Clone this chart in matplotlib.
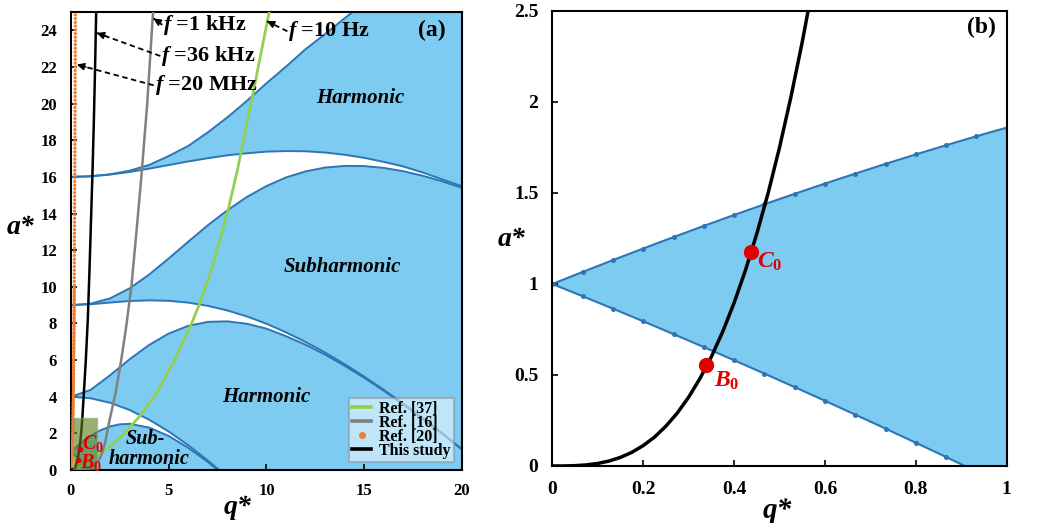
import matplotlib.pyplot as plt
from matplotlib.lines import Line2D
from matplotlib.patches import Rectangle

plt.rcParams['font.family'] = ['Liberation Serif', 'DejaVu Serif']
plt.rcParams['font.weight'] = 'bold'
plt.rcParams['mathtext.fontset'] = 'custom'
plt.rcParams['mathtext.rm'] = 'Liberation Serif:bold'
plt.rcParams['mathtext.it'] = 'Liberation Serif:italic:bold'
plt.rcParams['mathtext.bf'] = 'Liberation Serif:bold'

# ---- Mathieu stability boundaries, panel (a) ----
q_b1 = [0, 0.2, 0.4, 0.6, 0.8, 1.0]
b1 = [1.0, 0.795, 0.581, 0.358, 0.128, -0.110]

q_a1 = [0, 0.5, 1, 1.5, 2, 2.5, 3, 4, 5, 6, 7, 7.5, 8]
a1 = [1.0, 1.468, 1.859, 2.164, 2.379, 2.496, 2.519, 2.318, 1.858, 1.214, 0.439, 0.01, -0.44]

q_b2 = [0, 1, 2, 3, 4, 5, 6, 7, 7.5, 8, 10, 15, 20]
b2 = [4.0, 3.917, 3.672, 3.277, 2.747, 2.100, 1.352, 0.518, 0.07, -0.389, -2.38, -8.10, -14.49]

q_int = [0, 1, 2, 3, 4, 5, 6, 7, 8, 9, 10, 11, 12, 13, 14, 15, 16, 17, 18, 19, 20]
a2 = [4.0, 4.371, 5.172, 6.046, 6.829, 7.449, 7.870, 8.086, 8.115, 7.983, 7.717,
      7.305, 6.84, 6.30, 5.69, 5.035, 4.33, 3.58, 2.795, 1.98, 1.12]
b3 = [9.0, 9.048, 9.141, 9.223, 9.262, 9.236, 9.138, 8.962, 8.710, 8.383, 7.986,
      7.515, 6.99, 6.41, 5.78, 5.10, 4.38, 3.62, 2.825, 2.0, 1.137]
a3 = [9.0, 9.079, 9.370, 9.916, 10.671, 11.548, 12.465, 13.357, 14.18, 14.904, 15.50,
      15.97, 16.30, 16.51, 16.60, 16.59, 16.49, 16.31, 16.06, 15.755, 15.40]
b4 = [16.0, 16.033, 16.128, 16.27, 16.452, 16.648, 16.844, 17.02, 17.18, 17.29, 17.38,
      17.41, 17.40, 17.33, 17.21, 17.04, 16.82, 16.57, 16.24, 15.86, 15.49]

q_a4 = [0, 1, 2, 3, 4, 5, 6, 7, 8, 9, 10, 11, 12, 13, 14, 15, 16, 18, 20]
a4 = [16.0, 16.034, 16.141, 16.34, 16.65, 17.14, 17.69, 18.43, 19.25, 20.15, 21.11,
      22.02, 22.97, 23.8, 24.66, 25.5, 26.3, 27.8, 29.0]

# operating curves for the different drive frequencies
q_ref37 = [0, 0.7, 1.34, 1.8, 2.57, 3.51, 4.37, 5.31, 6.17, 6.59, 7.19, 8.04, 8.52, 9.32, 10.14]
a_ref37 = [0, 0.42, 0.82, 1.09, 1.83, 2.92, 4.19, 6.01, 8.0, 9.1, 10.93, 14.2, 16.4, 20.6, 25.0]

q_ref16 = [0, 0.6, 1.0, 1.3, 1.55, 1.75, 1.97, 2.28, 2.57, 2.81, 3.09, 3.35, 3.6, 3.9, 4.2]
a_ref16 = [0, 0.02, 0.1, 0.3, 0.8, 1.5, 2.7, 4.2, 6.0, 7.7, 10.0, 13.0, 16.0, 20.0, 25.0]

q_ref20 = [0, 0.05, 0.09, 0.12, 0.15, 0.17, 0.19, 0.21, 0.225]
a_ref20 = [0, 0.8, 2.0, 4.0, 7.0, 10.0, 15.0, 20.0, 25.0]

q_study = [0, 0.2, 0.35, 0.45, 0.52, 0.58, 0.66, 0.76, 0.86, 0.95, 1.03, 1.10, 1.17, 1.23, 1.29]
a_study = [0, 0.11, 0.6, 1.3, 2.0, 2.8, 4.2, 6.0, 8.2, 11.0, 13.8, 16.2, 19.0, 21.8, 25.0]

# ---- panel (b): first tongue near the origin ----
q_fine = [0, 0.0667, 0.1333, 0.2, 0.2667, 0.3333, 0.4, 0.4667, 0.5333, 0.6,
          0.6667, 0.7333, 0.8, 0.8667, 0.9333, 1.0]
a1_fine = [1.0, 1.0661, 1.1311, 1.1949, 1.2575, 1.3189, 1.3790, 1.4378, 1.4954, 1.5516,
           1.6064, 1.6599, 1.7118, 1.7624, 1.8117, 1.8591]
b1_fine = [1.0, 0.9328, 0.8645, 0.7951, 0.7247, 0.6534, 0.5810, 0.5077, 0.4334, 0.3583,
           0.2822, 0.2054, 0.1276, 0.0491, -0.0302, -0.1102]

q_blk = [0, 0.025, 0.05, 0.075, 0.1, 0.125, 0.15, 0.175, 0.2, 0.225, 0.25, 0.275,
         0.3, 0.325, 0.35, 0.375, 0.4, 0.425, 0.45, 0.475, 0.5, 0.525, 0.55, 0.575]
a_blk = [0, 0.0002, 0.0018, 0.0059, 0.014, 0.0273, 0.0473, 0.075, 0.112, 0.159, 0.219, 0.291,
         0.378, 0.481, 0.600, 0.738, 0.896, 1.075, 1.276, 1.500, 1.750, 2.026, 2.329, 2.661]

point_q = [0.339, 0.438]
point_a = [0.555, 1.174]

FILL = '#7DCBF1'
EDGE = '#2E75B6'
GREEN = '#92D050'
GRAY = '#808080'
ORANGE = '#ED7D31'
RED = '#E00000'


def tongue(ax, q_up, up, q_lo, lo):
    xs = list(q_up) + list(q_lo)[::-1]
    ys = list(up) + list(lo)[::-1]
    ax.fill(xs, ys, color=FILL, lw=0, zorder=1)


fig = plt.figure(figsize=(10.39, 5.23), dpi=100)
ax1 = fig.add_axes([0.0683, 0.1013, 0.3763, 0.8757])
ax2 = fig.add_axes([0.5316, 0.109, 0.4373, 0.870])

# ---------------- (a) ----------------
tongue(ax1, q_a1, a1, q_b1, b1)
tongue(ax1, q_int, a2, q_b2, b2)
tongue(ax1, q_int, a3, q_int, b3)
tongue(ax1, q_a4, a4, q_int, b4)

for qq, aa in [(q_b1, b1), (q_a1, a1), (q_b2, b2), (q_int, a2), (q_int, b3),
               (q_int, a3), (q_int, b4), (q_a4, a4)]:
    ax1.plot(qq, aa, color=EDGE, lw=1.4, zorder=2)

l37, = ax1.plot(q_ref37, a_ref37, color=GREEN, lw=2.0, zorder=3)
l16, = ax1.plot(q_ref16, a_ref16, color=GRAY, lw=1.8, zorder=3)
ax1.plot(q_ref20, a_ref20, color=ORANGE, lw=2.4, linestyle=(0, (0.01, 1.1)),
         dash_capstyle='round', zorder=3)
ax1.plot(q_ref20[:6], a_ref20[:6], color=ORANGE, lw=2.0, zorder=3)
lst, = ax1.plot(q_study, a_study, color='black', lw=1.8, zorder=3)

ax1.add_patch(Rectangle((0.09, 0), 1.25, 2.82, facecolor='#5E7F1E', alpha=0.62,
                        edgecolor='#8FA86A', lw=1.0, zorder=4))
ax1.plot(point_q, point_a, 'o', color=RED, ms=3, zorder=5)
ax1.text(0.47, 0.42, r'$B_{\mathit{0}}$', color=RED, fontsize=14.5, va='center', ha='left', zorder=6)
ax1.text(0.58, 1.45, r'$C_{\mathit{0}}$', color=RED, fontsize=14.5, va='center', ha='left', zorder=6)

# frequency call-outs
notes = [(r'$f$ =1 kHz', (4.72, 24.3), (4.22, 24.65)),
         (r'$f$ =36 kHz', (4.62, 22.6), (1.32, 23.86)),
         (r'$f$ =20 MHz', (4.28, 21.0), (0.30, 22.13)),
         (r'$f$ =10 Hz', (11.12, 23.95), (10.02, 24.5))]
for txt, (tx, ty), (hx, hy) in notes:
    ax1.text(tx, ty, txt, fontsize=16, va='center', ha='left', zorder=6)
    ax1.plot([tx - 0.05, hx], [ty, hy], color='black', lw=1.3, ls=(0, (3, 2)), zorder=6)
    ax1.annotate('', xy=(hx, hy), xytext=(hx + 0.12 * (tx - hx), hy + 0.12 * (ty - hy)),
                 arrowprops=dict(arrowstyle='-|>,head_length=0.45,head_width=0.22',
                                 color='black', lw=1.0, shrinkA=0, shrinkB=0), zorder=6)

lab = dict(fontsize=15, fontstyle='italic', fontweight='bold', ha='center', va='center', zorder=6)
ax1.text(14.8, 20.3, 'Harmonic', **lab)
ax1.text(13.9, 11.1, 'Subharmonic', **lab)
ax1.text(10.0, 4.0, 'Harmonic', **lab)
lab['fontsize'] = 14.5
ax1.text(3.8, 1.72, 'Sub-', **lab)
ax1.text(4.0, 0.62, 'harmonic', **lab)
ax1.text(18.45, 24.0, '(a)', fontsize=17, ha='center', va='center', zorder=6)

h20 = Line2D([], [], ls='none', marker='o', ms=4, color=ORANGE)
leg = ax1.legend([l37, l16, h20, lst], ['Ref. [37]', 'Ref. [16]', 'Ref. [20]', 'This study'],
                 loc='lower right', bbox_to_anchor=(0.988, 0.01), fontsize=11.5,
                 handlelength=1.2, handletextpad=0.5, labelspacing=-0.12, borderpad=0.2,
                 borderaxespad=0.2, fancybox=False, framealpha=0.5, edgecolor='#8C8C8C')
leg.get_frame().set_linewidth(1.5)
for h in leg.get_lines():
    h.set_linewidth(2.6)
leg.set_zorder(10)

ax1.set_xlim(0, 20)
ax1.set_ylim(0, 25)
ax1.set_xticks([0, 5, 10, 15, 20])
ax1.set_yticks(range(0, 25, 2))
ax1.tick_params(direction='in', length=4, width=1.2, labelsize=12)
ax1.tick_params(axis='y', pad=10)
ax1.tick_params(axis='x', pad=9)
ax1.set_xlabel('q*', fontsize=20, fontstyle='italic', fontweight='bold')
ax1.xaxis.set_label_coords(0.425, -0.055)
ax1.set_ylabel('a*', fontsize=20, fontstyle='italic', fontweight='bold', rotation=0)
ax1.yaxis.set_label_coords(-0.13, 0.53)
ax1.yaxis.label.set_va('center')

# ---------------- (b) ----------------
tongue(ax2, q_fine, a1_fine, q_fine, b1_fine)
ax2.plot(q_fine, a1_fine, color=EDGE, lw=1.5, marker='o', ms=2.6, zorder=2)
ax2.plot(q_fine, b1_fine, color=EDGE, lw=1.5, marker='o', ms=2.6, zorder=2)
ax2.plot(q_blk, a_blk, color='black', lw=2.5, zorder=3)
ax2.plot(point_q, point_a, 'o', color=RED, ms=10, zorder=5)
ax2.text(0.356, 0.47, r'$B_{\mathit{0}}$', color=RED, fontsize=17, va='center', ha='left', zorder=6)
ax2.text(0.451, 1.12, r'$C_{\mathit{0}}$', color=RED, fontsize=17, va='center', ha='left', zorder=6)
ax2.text(0.945, 2.41, '(b)', fontsize=17, ha='center', va='center', zorder=6)

ax2.set_xlim(0, 1)
ax2.set_ylim(0, 2.5)
ax2.set_xticks([0, 0.2, 0.4, 0.6, 0.8, 1.0])
ax2.set_xticklabels(['0', '0.2', '0.4', '0.6', '0.8', '1'])
ax2.set_yticks([0, 0.5, 1.0, 1.5, 2.0, 2.5])
ax2.set_yticklabels(['0', '0.5', '1', '1.5', '2', '2.5'])
ax2.tick_params(direction='in', length=4, width=1.2, labelsize=14)
ax2.tick_params(axis='y', pad=10)
ax2.tick_params(axis='x', pad=11)
ax2.set_xlabel('q*', fontsize=21, fontstyle='italic', fontweight='bold')
ax2.xaxis.set_label_coords(0.494, -0.068)
ax2.set_ylabel('a*', fontsize=20, fontstyle='italic', fontweight='bold', rotation=0)
ax2.yaxis.set_label_coords(-0.09, 0.497)
ax2.yaxis.label.set_va('center')

for ax in (ax1, ax2):
    for s in ax.spines.values():
        s.set_linewidth(1.5)

fig.savefig('out.png', dpi=100)
